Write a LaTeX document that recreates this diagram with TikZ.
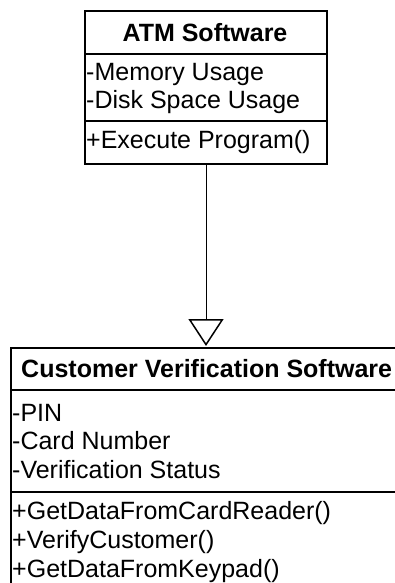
\documentclass[tikz,border=0pt]{standalone}
\usepackage{fontspec}
\setmainfont{Liberation Sans}
\usetikzlibrary{arrows.meta}
\begin{document}
\begin{tikzpicture}[x=1pt,y=-1pt,
  classbox/.style={draw=black, line width=2pt, rectangle, inner sep=0pt, anchor=north west},
  divider/.style={draw=black, line width=2pt},
  txt/.style={inner sep=0pt, anchor=west, font=\fontsize{25}{29}\selectfont},
  ttl/.style={inner sep=0pt, font=\fontsize{25}{29}\selectfont\bfseries},
  inherit/.style={draw=black, line width=1pt, -{Triangle[open, length=27pt, width=35pt, line width=1.5pt]}}]
\clip (0,0) rectangle (395,583);
\fill[white] (0,0) rectangle (395,583);
% top class
\node[classbox, minimum width=242pt, minimum height=153pt] (atm) at (84,10) {};
\draw[divider] (84,54) -- (326,54);
\draw[divider] (84,121) -- (326,121);
\node[ttl] (atmT) at (205,33) {ATM Software};
\node[txt] (atmA1) at (86,74) {-Memory Usage};
\node[txt] (atmA2) at (86,102) {-Disk Space Usage};
\node[txt] (atmO1) at (86,142) {+Execute Program()};
% bottom class
\node[classbox, minimum width=420pt, minimum height=260pt] (cvs) at (10,347) {};
\draw[divider] (10,390) -- (400,390);
\draw[divider] (10,492) -- (400,492);
\node[ttl, anchor=west] (cvsT) at (21,369) {Customer Verification Software};
\node[txt] (cvsA1) at (12,413) {-PIN};
\node[txt] (cvsA2) at (12,441) {-Card Number};
\node[txt] (cvsA3) at (12,470) {-Verification Status};
\node[txt] (cvsO1) at (12,513) {+GetDataFromCardReader()};
\node[txt] (cvsO2) at (12,542) {+VerifyCustomer()};
\node[txt] (cvsO3) at (12,571) {+GetDataFromKeypad()};
% generalization
\coordinate (tip) at (206,346);
\draw[inherit] (atm.south -| tip) -- (tip);
\end{tikzpicture}
\end{document}
